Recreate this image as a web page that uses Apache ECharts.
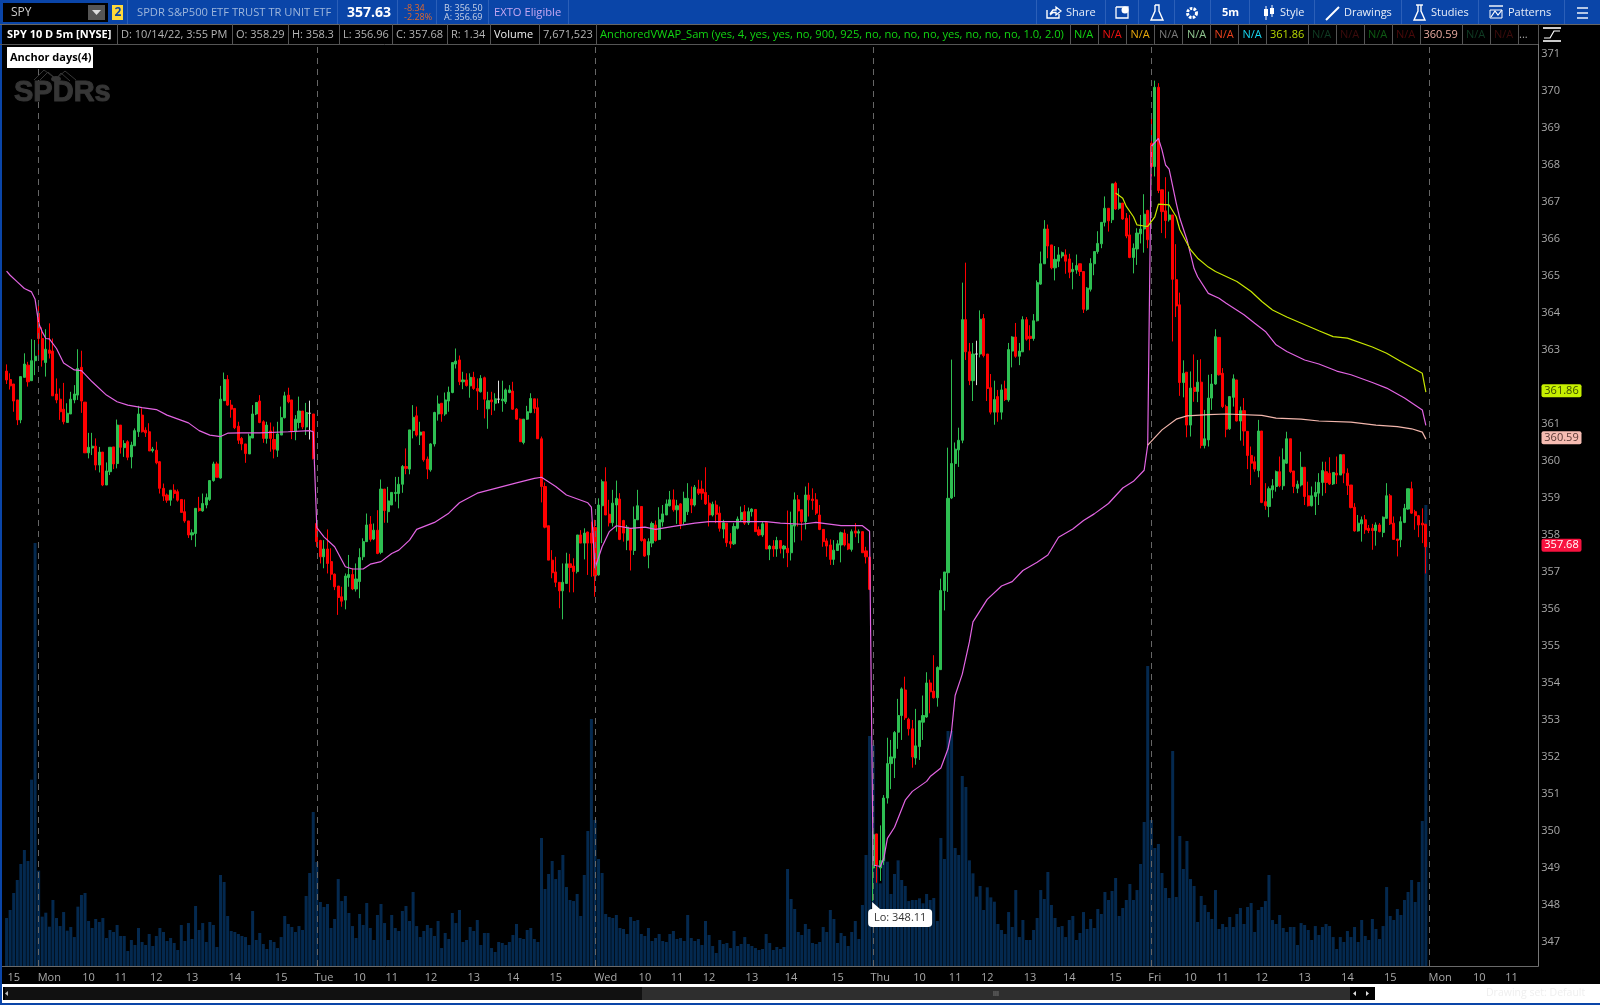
<!DOCTYPE html>
<html><head><meta charset="utf-8"><style>html,body{margin:0;padding:0;background:#000}#c{width:1600px;height:1005px}</style>
<script src="https://cdn.jsdelivr.net/npm/echarts@6/dist/echarts.min.js"></script></head><body><div id="c"></div>
<script>
// candles: [open, close, low, high]
const priorFriday=[[362.43,362.19,362.08,362.61],[362.2,362.03,361.93,362.37],[362.08,361.62,361.33,362.08],[361.65,361.11,360.97,361.65],[361.11,362.28,361.02,362.28],[362.26,362.62,362.26,362.91],[362.59,362.14,362.01,362.68],[362.17,362.71,362.17,363.29],[362.71,362.83,362.32,363.27]];
const monday=[[363.99,363.31,362.82,364.21],[363.31,362.73,362.55,363.61],[362.66,363.02,362.28,363.56],[363.0,362.91,362.77,363.72],[362.97,361.76,361.76,363.31],[361.81,361.65,361.56,362.23],[361.67,361.33,361.11,361.96],[361.4,361.06,360.99,362.11],[361.04,361.29,361.04,361.56],[361.27,361.67,361.27,361.87],[361.65,361.81,361.56,362.05],[361.78,362.5,361.65,363.02],[362.53,361.62,361.3,362.98],[361.59,360.22,360.22,361.59],[360.22,360.37,360.07,360.76],[360.35,360.4,360.16,360.76],[360.4,359.89,359.75,360.61],[359.89,360.24,359.69,360.38],[360.24,359.35,359.32,360.24],[359.35,359.73,359.35,359.96],[359.71,360.37,359.62,360.37],[360.38,359.92,359.78,360.38],[359.93,360.97,359.8,361.12],[360.97,360.37,360.2,360.97],[360.36,360.47,360.11,360.56],[360.52,360.1,360.02,360.56],[360.11,360.43,359.8,360.52],[360.41,360.82,360.41,360.88],[360.79,361.27,360.65,361.49],[361.24,360.79,360.77,361.42],[360.83,360.76,360.65,360.91],[360.79,360.27,360.27,361.02],[360.28,360.32,360.23,360.38],[360.29,359.95,359.91,360.52],[359.98,359.26,359.12,360.0],[359.26,359.05,358.92,359.39],[359.08,358.94,358.87,359.12],[358.94,359.21,358.79,359.21],[359.21,359.12,358.99,359.37],[359.17,358.94,358.9,359.23],[358.96,358.61,358.61,358.96],[358.63,358.38,358.33,358.96],[358.38,358.0,357.92,358.38],[358.0,358.06,357.86,358.15],[358.04,358.72,357.68,358.72],[358.72,358.66,358.63,359.03],[358.65,358.85,358.63,359.12],[358.81,359.01,358.72,359.12],[358.96,359.47,358.92,359.48],[359.47,359.92,359.44,359.98],[359.92,359.56,359.56,359.98],[359.54,361.67,359.52,362.03],[361.63,362.2,361.63,362.39],[362.2,361.51,361.49,362.32],[361.51,361.4,361.17,361.65],[361.42,360.9,360.86,361.42],[360.94,360.56,360.46,361.06],[360.61,360.46,360.29,360.65],[360.46,360.2,359.95,360.46],[360.19,360.67,360.19,360.74],[360.62,361.27,360.62,361.51],[361.27,361.58,361.24,361.58],[361.62,361.04,361.02,361.78],[361.06,360.61,360.49,361.1],[360.61,360.97,360.47,361.06],[360.81,360.61,360.25,361.04],[360.58,360.32,360.07,360.93],[360.29,360.73,360.11,361.06],[360.7,361.17,360.7,361.47],[361.17,361.76,361.15,361.87],[361.78,361.6,361.56,361.98],[361.65,360.79,360.59,361.65],[360.79,361.13,360.56,361.24],[361.04,361.35,360.88,361.74],[361.35,360.92,360.86,361.35],[360.92,361.31,360.7,361.57],[361.29,361.29,360.58,361.63],[361.27,360.07,360.04,361.27]];
const tuesday=[[358.31,357.82,357.68,358.31],[357.85,357.41,357.23,357.87],[357.41,357.62,357.1,357.86],[357.62,357.23,356.96,358.15],[357.28,356.94,356.78,357.64],[356.94,356.6,356.51,356.96],[356.62,356.31,355.84,356.62],[356.33,356.21,356.06,356.6],[356.24,356.89,355.99,356.96],[356.85,356.93,356.6,357.46],[356.93,356.54,356.51,357.1],[356.54,356.81,356.47,357.23],[356.74,357.39,356.29,357.64],[357.41,357.82,357.32,357.91],[357.82,358.27,357.82,358.58],[358.29,357.88,357.82,358.51],[357.89,358.13,357.86,358.31],[358.13,357.5,357.48,358.67],[357.53,359.24,357.48,359.5],[359.24,358.66,358.33,359.24],[358.63,358.92,358.33,359.3],[358.81,359.15,358.81,359.15],[359.12,359.15,358.9,359.57],[359.12,359.37,358.72,359.57],[359.37,359.85,359.14,359.89],[359.85,359.8,359.64,360.34],[359.78,360.84,359.64,360.84],[360.82,361.18,360.61,361.51],[361.22,360.7,360.66,361.47],[360.7,360.78,360.43,361.06],[360.79,360.03,359.98,360.79],[360.05,359.78,359.51,360.12],[359.76,360.46,359.71,360.48],[360.46,361.31,360.39,361.33],[361.27,361.54,361.09,361.77],[361.56,361.27,361.06,361.56],[361.27,361.65,361.22,361.85],[361.62,361.86,361.33,362.01],[361.85,362.66,361.83,362.66],[362.62,362.7,362.5,363.04],[362.73,362.14,362.05,362.85],[362.14,362.19,361.94,362.41],[362.19,362.04,362.01,362.37],[362.03,362.26,361.71,362.37],[362.26,361.96,361.92,362.41],[361.96,361.89,361.38,362.23],[361.87,362.23,361.85,362.32],[362.25,361.67,361.15,362.28],[361.41,361.63,360.87,361.87],[361.65,361.6,361.24,361.87],[361.56,361.68,361.36,361.83],[361.67,361.67,361.56,362.17],[361.63,361.67,361.33,362.17],[361.6,361.92,361.54,361.96],[361.85,361.92,361.83,362.05],[361.89,361.4,361.38,362.14],[361.4,361.13,361.11,361.43],[361.13,360.52,360.52,361.15],[360.5,361.13,360.45,361.13],[361.13,361.33,361.11,361.49],[361.31,361.69,361.29,361.83],[361.68,361.42,361.29,361.68],[361.44,360.6,360.6,361.69],[360.6,359.31,358.88,360.66],[359.31,358.21,358.18,359.42],[358.25,357.32,357.32,358.25],[357.32,356.98,356.83,357.59],[357.0,356.72,356.59,357.41],[356.72,356.49,356.02,356.72],[356.49,356.72,355.72,357.23],[356.69,357.22,356.69,357.52],[357.22,357.12,356.45,357.49],[357.16,357.01,356.45,357.37],[357.01,358.0,356.96,358.0],[358.0,357.78,357.78,358.13],[357.78,358.05,357.34,358.18],[358.08,357.78,356.92,358.09],[358.05,357.78,356.87,358.36]];
const wednesday=[[358.2,356.89,356.33,358.41],[356.92,358.81,356.9,358.99],[358.79,359.44,357.78,359.5],[359.44,358.54,358.54,359.83],[358.56,358.33,358.23,358.95],[358.33,358.86,358.23,359.22],[358.81,358.99,358.09,359.47],[358.97,357.88,357.86,359.13],[358.39,358.05,357.82,358.41],[357.86,358.21,357.59,358.27],[358.18,357.59,357.04,358.18],[357.58,358.42,357.46,358.77],[358.41,358.79,358.41,359.22],[358.77,357.85,357.82,358.77],[357.88,357.43,357.41,357.91],[357.46,357.82,357.1,357.91],[357.78,358.31,357.67,358.36],[358.27,357.85,357.82,358.39],[357.88,358.41,357.86,358.75],[358.35,358.57,358.23,358.81],[358.54,358.84,358.54,358.96],[358.79,358.95,358.77,359.19],[358.95,358.68,358.63,359.23],[358.68,358.79,358.3,358.95],[358.84,358.29,358.16,358.86],[358.36,358.99,358.27,359.17],[358.63,358.99,358.54,359.4],[358.97,358.81,358.59,359.31],[358.81,359.29,358.77,359.35],[359.24,359.13,359.08,359.49],[359.24,359.13,358.95,359.47],[359.15,358.84,358.81,359.83],[358.86,358.54,358.23,359.08],[358.54,358.83,358.5,358.9],[358.81,358.56,358.32,358.93],[358.59,358.18,358.09,358.77],[358.16,358.33,357.91,358.41],[358.32,357.79,357.68,358.32],[357.82,357.76,357.64,358.05],[357.76,358.23,357.73,358.32],[358.18,358.43,358.15,358.5],[358.41,358.61,358.36,358.77],[358.63,358.32,358.27,358.81],[358.33,358.63,358.27,358.74],[358.63,358.7,358.5,358.72],[358.69,358.09,358.09,358.69],[358.14,358.0,357.97,358.23],[358.0,358.3,357.95,358.36],[358.33,357.62,357.62,358.36],[357.62,357.7,357.32,357.73],[357.7,357.62,357.41,357.86],[357.62,357.85,357.41,357.95],[357.85,357.64,357.5,357.86],[357.62,357.7,357.37,357.73],[357.64,357.52,357.13,358.66],[357.52,358.27,357.31,358.63],[358.24,358.95,357.8,359.15],[358.95,358.65,358.23,359.08],[358.68,358.36,357.85,358.68],[358.36,359.08,358.15,359.31],[359.08,358.95,358.5,359.41],[358.97,358.93,358.68,359.26],[358.95,358.59,358.54,359.13],[358.54,358.15,358.13,358.81],[358.15,357.82,357.68,358.15],[357.84,357.7,357.41,357.91],[357.73,357.34,357.19,357.88],[357.34,357.59,357.19,357.86],[357.58,357.76,357.58,357.86],[357.73,358.06,357.26,358.09],[358.05,357.73,357.69,358.15],[357.76,357.62,357.59,358.03],[357.61,358.09,357.55,358.15],[358.11,358.05,357.94,358.32],[358.05,358.09,357.78,358.15],[358.09,357.52,357.52,358.09],[357.57,357.41,357.23,357.68],[357.4,356.53,356.51,357.41]];
const thursday=[[349.0,349.9,348.11,350.0],[349.92,349.08,348.6,349.92],[349.0,349.2,348.65,350.15],[349.2,350.89,349.08,350.97],[350.89,351.82,350.74,352.52],[351.82,352.0,351.13,352.46],[351.97,352.66,351.43,352.7],[352.67,353.12,352.22,353.57],[353.12,353.84,352.46,353.88],[353.81,353.06,353.0,354.17],[353.02,352.76,352.58,353.06],[352.76,352.0,351.71,353.0],[351.97,352.3,351.79,353.3],[352.28,352.98,351.92,352.98],[352.94,353.12,352.46,353.66],[353.08,354.0,353.06,354.29],[354.0,353.76,353.18,354.09],[353.78,353.6,353.58,354.75],[353.6,354.42,353.36,354.45],[354.36,356.5,354.36,356.82],[356.5,357.0,355.96,357.0],[356.98,358.99,356.46,360.36],[359.0,359.93,358.97,362.74],[359.93,360.32,359.03,360.5],[360.3,360.56,359.84,360.9],[360.56,363.82,360.48,364.82],[363.82,362.95,362.73,365.36],[362.95,362.17,362.05,363.19],[362.17,362.89,361.62,363.19],[362.89,362.89,362.05,363.25],[362.89,363.83,362.8,364.07],[363.85,362.85,362.8,363.97],[362.89,361.96,361.62,362.89],[361.98,361.32,361.26,362.35],[361.32,361.66,360.98,362.17],[361.74,361.32,361.06,361.92],[361.32,361.92,361.12,362.07],[361.95,361.66,361.62,362.17],[361.65,363.01,361.6,363.19],[362.97,363.35,362.53,363.37],[363.35,362.83,362.79,363.73],[362.83,362.97,362.59,363.19],[362.95,363.82,362.95,363.91],[363.82,363.29,363.25,363.89],[363.37,363.31,362.99,363.67],[363.31,363.79,363.25,363.97],[363.79,364.82,363.77,364.88],[364.78,365.33,364.76,365.66],[365.33,366.27,365.33,366.51],[366.27,365.81,365.48,366.39],[365.84,365.22,365.18,365.84],[365.22,365.45,364.88,365.81],[365.4,365.57,365.24,365.78],[365.54,365.63,365.48,365.66],[365.57,365.4,365.06,365.72],[365.46,365.1,364.94,365.6],[365.12,365.18,364.64,365.36],[365.16,365.28,365.06,365.58],[365.33,365.12,365.0,365.33],[365.12,364.1,364.0,365.12],[364.1,364.67,364.06,364.7],[364.64,365.34,364.58,365.48],[365.33,365.66,365.02,365.66],[365.66,365.88,365.6,366.21],[365.87,366.45,365.75,366.45],[366.45,366.83,366.34,367.15],[366.83,366.49,366.2,366.83],[366.52,367.49,366.43,367.49],[367.51,366.81,366.79,367.55],[366.83,366.97,366.79,367.37],[366.97,366.54,366.52,366.97],[366.56,366.08,366.02,366.7],[366.11,365.5,365.48,366.65],[365.5,365.75,365.07,365.88],[365.73,366.16,365.3,366.29],[366.14,366.27,365.88,366.65],[366.27,366.67,365.63,367.21],[366.77,365.98,365.75,366.79]];
const friday=[[368.59,367.96,367.69,369.29],[367.96,370.1,367.69,370.28],[370.1,367.31,367.24,370.21],[367.33,366.74,366.16,367.33],[366.76,366.5,366.02,367.67],[366.52,366.65,366.47,367.28],[366.65,364.91,363.23,366.65],[364.9,364.19,363.89,365.86],[364.22,362.12,361.76,364.55],[362.12,362.37,361.72,362.72],[362.4,360.97,360.64,362.4],[360.97,361.97,360.66,362.42],[361.99,361.88,361.6,362.88],[361.88,362.13,361.59,362.73],[362.13,360.42,360.34,362.75],[360.42,360.6,360.34,361.38],[360.57,361.7,360.39,362.33],[361.7,362.08,361.38,362.35],[362.08,363.36,362.06,363.56],[363.34,362.33,362.31,363.34],[362.37,361.47,361.43,362.51],[361.47,360.86,360.64,361.52],[360.87,361.74,360.84,361.74],[361.72,362.22,361.47,362.34],[362.19,361.08,361.07,362.19],[361.08,361.36,360.55,361.47],[361.36,360.81,360.41,361.7],[360.8,360.15,359.78,360.8],[360.15,359.94,359.35,360.39],[359.98,359.78,359.71,360.12],[359.74,360.81,359.56,361.11],[360.81,358.88,358.86,360.81],[358.9,358.79,358.68,359.4],[358.77,359.25,358.48,359.31],[359.22,359.33,358.99,359.51],[359.31,359.71,359.17,359.74],[359.71,359.33,359.29,360.12],[359.33,360.03,359.22,360.34],[359.94,360.6,359.92,360.79],[360.6,359.71,359.67,360.6],[359.73,359.31,359.13,359.73],[359.26,359.37,359.13,359.47],[359.35,359.83,359.31,360.25],[359.83,359.04,358.81,359.83],[359.06,358.79,358.77,359.44],[358.79,359.06,358.77,359.31],[359.04,359.15,358.54,359.44],[359.13,359.42,358.81,359.67],[359.42,359.74,359.06,359.98],[359.71,359.42,359.13,359.98],[359.67,359.38,359.35,360.1],[359.38,359.69,359.35,359.69],[359.67,359.62,359.38,360.12],[359.62,360.17,359.62,360.17],[360.17,359.67,359.4,360.17],[359.67,359.34,359.08,359.8],[359.35,358.74,358.72,359.35],[358.75,358.11,358.09,358.86],[358.11,358.32,358.09,358.54],[358.3,358.41,357.82,358.5],[358.41,358.14,358.03,358.54],[358.18,358.12,358.05,358.27],[358.18,358.12,357.6,358.3],[358.12,358.27,357.71,358.34],[358.27,358.09,358.07,358.32],[358.07,358.48,357.94,358.5],[358.45,359.06,358.43,359.4],[359.06,358.3,358.27,359.11],[358.32,357.88,357.87,358.5],[357.89,357.85,357.42,357.89],[357.87,358.36,357.67,358.5],[358.34,358.72,358.32,358.84],[358.7,359.25,358.68,359.25],[359.25,358.59,358.57,359.44],[358.63,358.52,358.14,358.68],[358.52,358.27,357.94,358.54],[358.32,358.27,357.78,358.72],[358.29,357.68,356.96,358.3]];
// volume in thousands of shares
const volPrior=[799,932,1215,1431,1697,1930,1747,3100,7040];
const volMon=[1586,821,887,654,1098,799,665,898,588,649,482,987,1181,1215,749,632,782,732,799,466,599,566,682,499,499,250,433,349,632,399,349,532,333,499,632,566,416,466,383,266,682,416,715,449,998,599,715,399,732,682,316,1514,1398,832,582,566,532,499,482,349,915,433,549,366,283,433,399,299,482,832,699,649,566,665,599,1165,1547,2562];
const volTue=[1730,1065,982,1032,632,782,1447,1081,1165,882,665,466,865,682,1048,632,433,849,1032,715,433,849,632,582,915,998,749,1231,665,482,582,682,632,499,749,299,549,449,882,715,932,399,433,649,582,765,349,549,549,299,233,399,383,349,399,516,699,466,449,599,632,449,399,2130,1281,1531,1747,1447,1597,1847,1314,1098,1081,1198,832,1514,2246,4110];
const volWed=[2429,1780,1547,865,815,799,849,632,616,532,815,749,765,532,499,632,416,466,532,416,399,532,582,449,466,416,849,466,416,449,349,749,516,333,216,433,366,383,299,582,333,366,482,366,333,299,266,283,532,383,266,316,283,316,1614,1115,948,566,516,699,616,383,366,399,649,566,932,782,383,549,499,333,566,749,449,1015,1847,3827];
const volThu=[3677,1653,1375,2274,1736,1198,1531,1758,1431,1331,1081,1098,1098,1126,1043,1198,1098,1131,749,2130,1780,3910,3910,1963,1847,3161,2978,1758,1542,1154,1331,932,1309,1142,1070,699,599,532,898,649,1264,482,765,433,433,599,799,1264,1115,1564,1015,799,649,665,482,765,832,433,549,898,616,782,632,948,865,1231,1098,1248,1464,832,965,1098,1364,1098,1264,1697,2396,4991];
const volFri=[2429,1963,2030,1547,1298,1131,3577,1148,2163,1614,2080,1447,1331,732,1165,1015,898,782,1264,616,699,649,815,649,865,965,699,982,1048,566,932,982,1081,1514,765,699,849,632,566,649,649,349,715,682,599,433,665,516,649,699,665,482,283,482,399,582,482,649,399,765,499,433,782,616,449,665,1314,832,765,948,849,1098,1231,1431,1065,1398,2413,7672];
// anchored VWAP lines, read as [bar index, price]
const vwapMagenta=[[1,365.13],[2,365.02],[4,364.84],[6,364.66],[8,364.57],[9,364.37],[10,363.72],[11,363.49],[12,363.31],[13,363.3],[15,363.04],[17,362.65],[20,362.46],[22,362.44],[25,362.14],[29,361.78],[32,361.6],[35,361.51],[39,361.44],[43,361.39],[46,361.24],[52,361.03],[55,360.82],[58,360.7],[61,360.66],[63,360.75],[67,360.76],[72,360.76],[80,360.79],[86,360.82],[87,360.79],[88,358.2],[90,357.95],[93,357.68],[96,357.14],[98,357.08],[101,357.08],[103,357.21],[106,357.28],[109,357.5],[111,357.59],[114,357.86],[116,358.15],[121,358.34],[125,358.59],[128,358.87],[133,359.13],[144,359.41],[149,359.53],[151,359.56],[155,359.31],[158,359.08],[164,358.87],[165,358.75],[166,357.1],[168,357.68],[170,358.09],[172,358.25],[176,358.18],[180,358.21],[183,358.15],[188,358.23],[194,358.32],[198,358.36],[214,358.36],[218,358.32],[224,358.29],[228,358.34],[235,358.25],[241,358.25],[243,358.1],[244,349.08],[246,349.04],[247,349.26],[248,349.8],[250,350.1],[253,350.83],[255,351.07],[259,351.34],[260,351.47],[263,351.7],[265,352.22],[266,352.7],[267,353.66],[269,354.24],[271,355.11],[272,355.65],[276,356.26],[280,356.62],[283,356.74],[286,357.04],[290,357.26],[293,357.46],[296,357.94],[300,358.16],[303,358.39],[306,358.57],[310,358.85],[314,359.27],[317,359.45],[320,359.75],[321,360.43],[322,368.5],[324,368.72],[325,368.41],[326,368.0],[327,367.89],[329,366.97],[330,366.56],[332,365.98],[334,365.2],[335,364.98],[338,364.53],[341,364.4],[343,364.26],[348,363.95],[351,363.72],[354,363.5],[357,363.14],[360,362.96],[365,362.73],[369,362.62],[374,362.43],[378,362.33],[384,362.12],[388,361.97],[393,361.7],[398,361.38],[399,360.96]];
const vwapSalmon=[[321,360.43],[325,360.84],[329,361.13],[332,361.22],[338,361.25],[343,361.27],[353,361.23],[357,361.16],[364,361.13],[369,361.08],[378,361.05],[385,360.97],[391,360.93],[395,360.87],[398,360.78],[399,360.59]];
const vwapYellow=[[312,367.24],[314,367.1],[315,366.88],[317,366.6],[318,366.38],[320,366.35],[321,366.34],[323,366.6],[324,366.94],[327,366.92],[329,366.6],[330,366.25],[333,365.71],[335,365.48],[338,365.24],[340,365.12],[346,364.85],[350,364.58],[353,364.31],[356,364.08],[360,363.89],[369,363.52],[373,363.36],[377,363.32],[384,363.08],[388,362.91],[392,362.69],[398,362.37],[399,361.86]];
// axes
const dayStartIdx=[10,88,166,244,322,400];
const xLabelIdx=[3,13,24,33,43,53,65,78,90,100,109,120,132,143,155,169,180,189,198,210,221,234,246,257,267,276,288,299,312,323,333,342,353,365,377,389,403,414,423];
const xLabelText=['15','Mon','10','11','12','13','14','15','Tue','10','11','12','13','14','15','Wed','10','11','12','13','14','15','Thu','10','11','12','13','14','15','Fri','10','11','12','13','14','15','Mon','10','11'];
const yTickLabels=[347,348,349,350,351,352,353,354,355,356,357,358,359,360,361,363,364,365,366,367,368,369,370,371];
const badgeValues=[361.86,360.59,357.68];
const lowNote=[244,348.11];

const BAR_COUNT=431;
const categories=new Array(BAR_COUNT).fill('');
xLabelIdx.forEach((k,n)=>categories[k]=xLabelText[n]);
const empty=['-','-','-','-'];
const candles=[empty].concat(priorFriday,monday,tuesday,wednesday,thursday,friday);
const volumes=['-'].concat(volPrior,volMon,volTue,volWed,volThu,volFri);
const badgeColors=[['#c6f000','#3a4a00'],['#f6bcb2','#5a3a36'],['#f8123f','#ffffff']];
const FONT='"Open Sans"';

const chart=echarts.init(document.getElementById('c'),null,{renderer:'canvas'});

// ---- window chrome, drawn as real text and simple shapes
const g=[];
const rect=(x,y,w,h,fill,extra)=>g.push(Object.assign({type:'rect',silent:true,shape:{x,y,width:w,height:h},style:{fill},z:100},extra||{}));
const vline=(x,y1,y2,c)=>g.push({type:'line',silent:true,shape:{x1:x+.5,y1,x2:x+.5,y2},style:{stroke:c,lineWidth:1},z:102});
const poly=(pts,c,w,z)=>g.push({type:'polyline',silent:true,shape:{points:pts},style:{stroke:c,lineWidth:w||1.4,fill:null},z:z||103});
const txt=(x,y,t,c,size,weight,family,extra)=>g.push({type:'text',silent:true,x,y,style:Object.assign({text:t,fill:c,font:(weight||'normal')+' '+(size||11)+'px '+(family||FONT),textVerticalAlign:'middle',textBaseline:'middle'},extra||{}),z:104});
rect(0,0,1600,24,'#0a45a8');
rect(0,24,1538,20,'#000');
rect(1538,24,62,20,'#000');
g.push({type:'line',silent:true,shape:{x1:0,y1:24.5,x2:1600,y2:24.5},style:{stroke:'#666',lineWidth:1},z:101});
g.push({type:'line',silent:true,shape:{x1:0,y1:44.5,x2:1538,y2:44.5},style:{stroke:'#555',lineWidth:1},z:101});
rect(3,3,105,19,'#000',{});
rect(88,5,17,15,'#555');
g.push({type:'polygon',silent:true,shape:{points:[[92,10],[101,10],[96.5,15]]},style:{fill:'#ddd'},z:103});
txt(11,13,'SPY','#ccc',12);
rect(112,5,11,15,'#ffd93a');
txt(114.5,13,'2','#0a45a8',12,'bold');
txt(137,12.5,'SPDR S&P500 ETF TRUST TR UNIT ETF','#9db6dc',11.2);
txt(347,13,'357.63','#ffffff',14,'bold');
txt(404,8,'-8.34','#e0682c',9);txt(404,17,'-2.28%','#e0682c',9);
txt(444,8,'B: 356.50','#c8d2e6',9);txt(444,17,'A: 356.69','#c8d2e6',9);
txt(494,12.5,'EXTO Eligible','#c6a8f2',11.2);
[127,337,397,436,488,568,1036,1105,1138,1174,1210,1249,1314,1401,1478,1564].forEach(x=>vline(x,0,24,'#2b5fb8'));
txt(1066,13,'Share','#e8eef8',11);
txt(1222,13,'5m','#ffffff',11,'bold');
txt(1280,13,'Style','#e8eef8',11);
txt(1344,13,'Drawings','#e8eef8',11);
txt(1431,13,'Studies','#e8eef8',11);
txt(1508,13,'Patterns','#e8eef8',11);
// toolbar icons
poly([[1047,10],[1047,18],[1059,18],[1059,14]],'#fff',1.4);
poly([[1050,14],[1053,10],[1056,10],[1056,7],[1061,11],[1056,15],[1056,12.5],[1053,12.5],[1050,15]],'#fff',1.3);
poly([[1116,7],[1128,7],[1128,18],[1116,18],[1116,7]],'#fff',1.3);
g.push({type:'circle',silent:true,shape:{cx:1125,cy:10,r:3.5},style:{fill:'#fff'},z:103});
poly([[1155,5],[1159,5],[1159,11],[1163,20],[1151,20],[1155,11],[1155,5]],'#fff',1.4);
g.push({type:'circle',silent:true,shape:{cx:1192,cy:13,r:4.5},style:{stroke:'#fff',lineWidth:3,lineDash:[2.5,1.2],fill:'#0a45a8'},z:103});
poly([[1266,6],[1266,20]],'#fff',1);poly([[1272,5],[1272,17]],'#fff',1);rect(1264,9,4,7,'#fff',{z:103});rect(1270,8,4,6,'#fff',{z:103});
poly([[1326,20],[1339,7]],'#fff',2);
poly([[1416,5],[1423,5]],'#fff',1.4);poly([[1418,5],[1418,11],[1414,20],[1425,20],[1421,11],[1421,5]],'#fff',1.4);
poly([[1489,6],[1503,6]],'#fff',1.4);poly([[1490,10],[1502,10],[1502,18],[1490,18],[1490,10]],'#fff',1);poly([[1491,17],[1495,11],[1498,15],[1502,10]],'#fff',1.2);
poly([[1577,8],[1588,8]],'#fff',1.4);poly([[1577,13],[1588,13]],'#fff',1.4);poly([[1577,18],[1588,18]],'#fff',1.4);
// study row
[[7,'SPY 10 D 5m [NYSE]','#ffffff','bold'],[121,'D: 10/14/22, 3:55 PM','#b4b4b4'],[236,'O: 358.29','#b4b4b4'],[292,'H: 358.3','#b4b4b4'],[343,'L: 356.96','#b4b4b4'],[396,'C: 357.68','#b4b4b4'],[451,'R: 1.34','#b4b4b4'],[494,'Volume','#eeeeee'],[543,'7,671,523','#b4b4b4'],[1074,'N/A','#12d412'],[1102.5,'N/A','#ee1111'],[1130.5,'N/A','#e8a80c'],[1159,'N/A','#7a7a7a'],[1187,'N/A','#8fc48f'],[1214.5,'N/A','#e8401c'],[1242.5,'N/A','#18d4ee'],[1270,'361.86','#b8d800'],[1312,'N/A','#103c24'],[1340,'N/A','#3c0c0c'],[1368,'N/A','#0e5a14'],[1396,'N/A','#4a0a0a'],[1423.5,'360.59','#e8aaa0'],[1466,'N/A','#103c24'],[1494,'N/A','#3c0c0c'],[1519,'...','#aaaaaa']].forEach(r=>txt(r[0],34.5,r[1],r[2],11,r[3]));
txt(600,34.5,'AnchoredVWAP_Sam (yes, 4, yes, yes, no, 900, 925, no, no, no, no, yes, no, no, no, 1.0, 2.0)','#12d412',11.17);
[117,232,288,339,392,447,490,539,596,1070,1098,1126,1154,1182,1210,1238,1266,1308,1336,1364,1392,1420,1462,1490,1518,1538].forEach(x=>vline(x,24,44,'#555'));
// study icon
poly([[1543,28],[1561,28]],'#fff',1.6);poly([[1543,41],[1561,41]],'#fff',1.6);poly([[1544,38],[1550,38],[1554,31],[1560,31]],'#fff',1.2);
// anchor label
rect(7,47,86,21,'#fff');
txt(10,57.5,'Anchor days(4)','#000',11,'bold');
// watermark
txt(14,93,'SPDRs','#363636',29,'bold','"Liberation Sans"',{stroke:'#363636',lineWidth:1});
[[[56,79],[44,70],[34,80]],[[56,79],[48,72],[40,80]],[[56,79],[65,71],[76,80]],[[56,79],[61,73],[70,81]]].forEach(p=>poly(p,'#363636',1,99));
g.push({type:'ellipse',silent:true,shape:{cx:56,cy:79,rx:5,ry:3},style:{fill:'#363636'},z:99});
// bottom bar
rect(0,984,1600,21,'#fff');
rect(3,987,1372,13,'#000');
rect(5,987,637,13,'#111');
rect(642,987,708,13,'#2e2e2e');
txt(993,993.5,'III','#999',7);
g.push({type:'polygon',silent:true,shape:{points:[[8,991],[8,996],[5,993.5]]},style:{fill:'#bbb'},z:103});
g.push({type:'polygon',silent:true,shape:{points:[[1356,991],[1356,996],[1353,993.5]]},style:{fill:'#ddd'},z:103});
g.push({type:'polygon',silent:true,shape:{points:[[1366,991],[1366,996],[1369,993.5]]},style:{fill:'#ddd'},z:103});
txt(1486,993.5,'Drawing set: Default','#efefef',10.5);
rect(0,1003,1600,2,'#0a45a8');
rect(0,24,2,981,'#0a45a8');

chart.setOption({
  animation:false,
  backgroundColor:'#000',
  textStyle:{fontFamily:'Open Sans'},
  grid:{left:0.4,top:44,width:1537.8,height:922,containLabel:false},
  xAxis:{type:'category',data:categories,boundaryGap:true,
    axisLine:{show:true,lineStyle:{color:'#6a6a6a',width:1}},axisTick:{show:false},splitLine:{show:false},
    axisLabel:{interval:0,color:'#a8a8a8',fontSize:11,fontFamily:'Open Sans',margin:6,hideOverlap:false}},
  yAxis:[
    {type:'value',position:'right',min:346.35,max:371.27,scale:true,
     axisLine:{show:true,lineStyle:{color:'#777',width:1}},axisTick:{show:false},splitLine:{show:false},
     axisLabel:{inside:false,margin:3,padding:[2,0,0,0],color:'#a8a8a8',fontSize:11,fontFamily:'Open Sans',customValues:yTickLabels,formatter:v=>String(v),showMinLabel:true,showMaxLabel:true}},
    {type:'value',min:0,max:15341,show:false}
  ],
  series:[
    {name:'Volume',type:'bar',yAxisIndex:1,data:volumes,barWidth:3,itemStyle:{color:'#04294f'},z:1,silent:true,
      markLine:{silent:true,symbol:'none',animation:false,label:{show:false},lineStyle:{color:'#666',type:[6,5],width:1},data:dayStartIdx.map(k=>({xAxis:k}))}},
    {name:'SPY',type:'candlestick',data:candles,barWidth:2.6,z:3,silent:true,
      itemStyle:{color:'#2ebf52',color0:'#ff0000',borderColor:'#2ebf52',borderColor0:'#ff0000',borderColorDoji:'#e0e0e0',borderWidth:1}},
    {name:'VWAP',type:'line',data:vwapMagenta,showSymbol:false,symbol:'none',z:4,silent:true,lineStyle:{color:'#e264e2',width:1.2}},
    {name:'VWAP lower',type:'line',data:vwapSalmon,showSymbol:false,symbol:'none',z:4,silent:true,lineStyle:{color:'#f2b6ac',width:1.2}},
    {name:'VWAP upper',type:'line',data:vwapYellow,showSymbol:false,symbol:'none',z:4,silent:true,lineStyle:{color:'#c8e600',width:1.2}},
    {name:'Badges',type:'custom',z:10,silent:true,clip:false,data:badgeValues.map((v,n)=>[399,v,n]),encode:{x:0,y:1},
      renderItem:(p,api)=>{const n=api.value(2),v=api.value(1),y=api.coord([399,v])[1]-1.5,c=badgeColors[n];
        return {type:'group',children:[
          {type:'rect',shape:{x:1541.5,y:y-6.5,width:40,height:13,r:2},style:{fill:c[0]}},
          {type:'text',style:{x:1561.5,y:y,text:v.toFixed(2),fill:c[1],font:'11px "Open Sans"',textAlign:'center',textVerticalAlign:'middle'}}]};}},
    {name:'Low note',type:'custom',z:11,silent:true,clip:false,data:[lowNote],encode:{x:0,y:1},
      renderItem:(p,api)=>{const pt=api.coord([api.value(0),api.value(1)]),x=pt[0]-1,y=pt[1];
        return {type:'group',children:[
          {type:'polygon',shape:{points:[[x,y+1],[x,y+9],[x+9,y+9]]},style:{fill:'#fff'}},
          {type:'rect',shape:{x:x-4,y:y+8,width:64,height:18,r:4},style:{fill:'#fff'}},
          {type:'text',style:{x:x+28,y:y+17,text:'Lo: '+api.value(1).toFixed(2),fill:'#333',font:'11px "Open Sans"',textAlign:'center',textVerticalAlign:'middle'}}]};}}
  ],
  graphic:{elements:g}
});
</script></body></html>
